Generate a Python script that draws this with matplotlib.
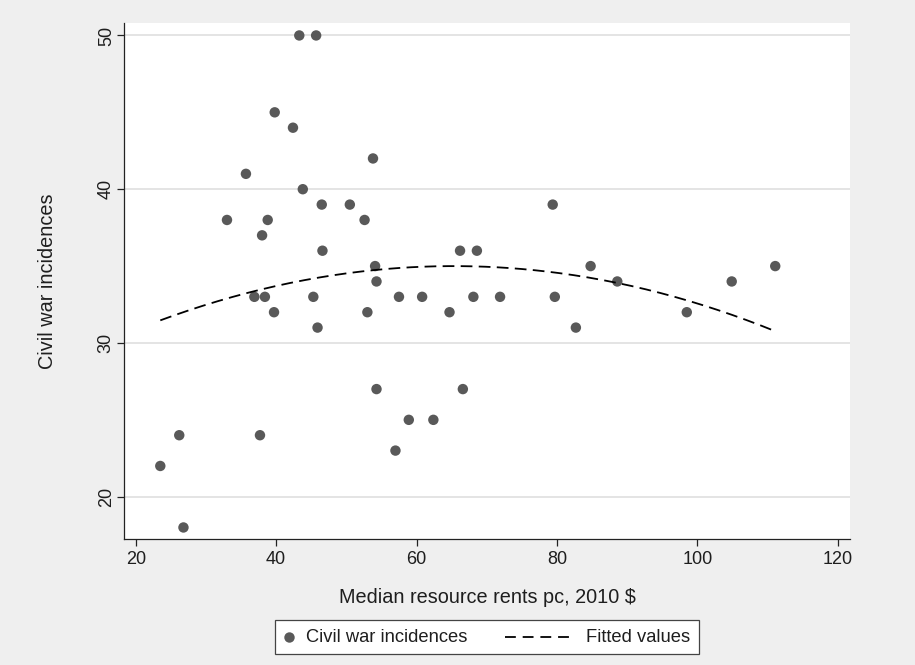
import numpy as np
import matplotlib
matplotlib.use("Agg")
import matplotlib.pyplot as plt
from matplotlib.lines import Line2D
from matplotlib.offsetbox import DrawingArea, TextArea, HPacker, AnchoredOffsetbox

# ---- data ----
rents = [23.5, 26.2, 26.8, 33.0, 35.7, 36.9, 37.7, 38.0, 38.4, 38.8,
         39.7, 39.8, 42.4, 43.3, 43.8, 45.3, 45.7, 45.9, 46.5, 46.6,
         50.5, 52.6, 53.0, 53.8, 54.1, 54.3, 54.3, 57.0, 57.5, 58.9,
         60.8, 62.4, 64.7, 66.2, 66.6, 68.1, 68.6, 71.9, 79.4, 79.7,
         82.7, 84.8, 88.6, 98.5, 104.9, 111.1]
incidences = [22, 24, 18, 38, 41, 33, 24, 37, 33, 38,
              32, 45, 44, 50, 40, 33, 50, 31, 39, 36,
              39, 38, 32, 42, 35, 34, 27, 23, 33, 25,
              33, 25, 32, 36, 27, 33, 36, 33, 39, 33,
              31, 35, 34, 32, 34, 35]
x_ticks = [20, 40, 60, 80, 100, 120]
y_ticks = [20, 30, 40, 50]
x_label = "Median resource rents pc, 2010 $"
y_label = "Civil war incidences"
legend_labels = ["Civil war incidences", "Fitted values"]

plt.rcParams['font.family'] = ['Liberation Sans', 'DejaVu Sans']
FS_TICK = 13
FS_TITLE = 14.3
FS_LEG = 13.2
BG = '#EFEFEF'
MARKER = '#595959'
TXT = '#1E1E1E'

W, H = 915, 665
fig = plt.figure(figsize=(W / 100, H / 100), dpi=100, facecolor=BG)
ax = fig.add_axes([124 / W, 1 - 539 / H, 726 / W, 516 / H])
ax.set_facecolor('white')
ax.set_xlim(18.33, 121.75)
ax.set_ylim(17.25, 50.81)

x = np.array(rents)
y = np.array(incidences)

# quadratic fit (Stata qfit)
coef = np.polyfit(x, y, 2)
xf = np.linspace(x.min(), x.max(), 300)
yf = np.polyval(coef, xf)

ax.scatter(x, y, s=7.5 ** 2, color=MARKER, edgecolors='none', zorder=3)
ax.plot(xf, yf, color='black', lw=1.3, dashes=(6.5, 3.5), zorder=4)

ax.set_xticks(x_ticks)
ax.set_yticks(y_ticks)
ax.yaxis.grid(True, color='#DCDCDC', lw=1.1)
ax.set_axisbelow(True)
for s in ['top', 'right']:
    ax.spines[s].set_visible(False)
for s in ['left', 'bottom']:
    ax.spines[s].set_color('#222222')
    ax.spines[s].set_linewidth(0.9)
ax.tick_params(axis='both', length=5, width=0.9, color='#222222',
               labelsize=FS_TICK, labelcolor=TXT)
ax.tick_params(axis='x', pad=3.3)
ax.tick_params(axis='y', pad=1.6)
for lab in ax.get_yticklabels():
    lab.set_rotation(90)
    lab.set_va('center')

ax.set_xlabel(x_label, fontsize=FS_TITLE, color=TXT)
ax.xaxis.set_label_coords(0.5, (539 - 603) / 516)
ax.xaxis.label.set_va('baseline')
ax.set_ylabel(y_label, fontsize=FS_TITLE, color=TXT)
ax.yaxis.set_label_coords((57 - 124) / 726, 0.5)

# ---- legend built from offset boxes ----
k = 0.72  # px -> pt at 100 dpi
hh = 14 * k
da1 = DrawingArea(22 * k, hh, 0, 0)
da1.add_artist(Line2D([5 * k], [hh / 2], marker='o', ms=7.5, color=MARKER,
                      markeredgewidth=0, linestyle='none'))
t1 = TextArea(legend_labels[0], textprops=dict(size=FS_LEG, color=TXT))
da2 = DrawingArea((38 + 67 + 14) * k, hh, 0, 0)
da2.add_artist(Line2D([38 * k, 105 * k], [hh / 2, hh / 2], color='black',
                      lw=1.3, dashes=(6.0, 3.8)))
t2 = TextArea(legend_labels[1], textprops=dict(size=FS_LEG, color=TXT))
hp = HPacker(children=[da1, t1, da2, t2], align='center', pad=0, sep=0)
box = AnchoredOffsetbox(loc='center', child=hp, pad=0.48, borderpad=0,
                        frameon=True, prop=dict(size=FS_LEG),
                        bbox_to_anchor=(487 / W, 1 - 637 / H),
                        bbox_transform=fig.transFigure)
box.patch.set_boxstyle('square', pad=0)
box.patch.set_facecolor('white')
box.patch.set_edgecolor('#444444')
box.patch.set_linewidth(0.9)
fig.add_artist(box)

fig.savefig('out.png', dpi=100, facecolor=BG)
